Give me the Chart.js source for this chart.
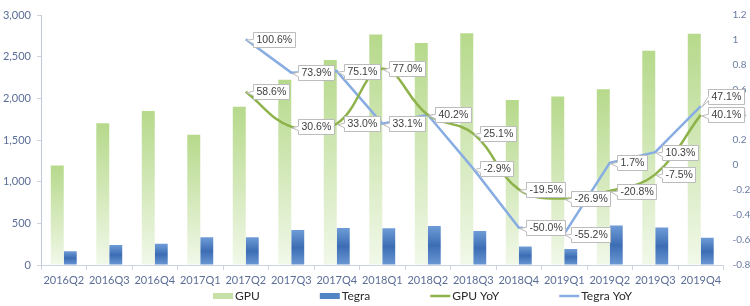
<!DOCTYPE html>
<html lang="en">
<head>
    <meta charset="UTF-8">
    <title>GPU / Tegra</title>
    <script src="https://cdn.jsdelivr.net/npm/chart.js@4.4.1/dist/chart.umd.min.js"></script>
    <style>
        body { margin: 0; background: #fff; }
    </style>
</head>
<body>
<canvas id="myChart" width="750" height="306"></canvas>
<script>
    var quarters = ['2016Q2', '2016Q3', '2016Q4', '2017Q1', '2017Q2', '2017Q3', '2017Q4', '2018Q1',
        '2018Q2', '2018Q3', '2018Q4', '2019Q1', '2019Q2', '2019Q3', '2019Q4'];
    var gpuRevenue = [1195, 1700, 1848, 1562, 1898, 2222, 2460, 2766, 2664, 2780, 1981, 2022, 2110, 2571, 2776];
    var tegraRevenue = [166, 241, 254, 332, 333, 419, 445, 442, 467, 407, 223, 192, 475, 449, 328];
    var gpuYoY = [null, null, null, null, 0.586, 0.306, 0.330, 0.770, 0.402, 0.251, -0.195, -0.269, -0.208, -0.075, 0.401];
    var tegraYoY = [null, null, null, null, 1.006, 0.739, 0.751, 0.331, 0.402, -0.029, -0.500, -0.552, 0.017, 0.103, 0.471];

    var tickColor = '#5b6e98';
    var axisColor = '#cdd3e0';
    var green = '#8db34a';
    var blue = '#88ade2';

    Chart.defaults.font.family = 'Lato, "Noto Sans", sans-serif';
    Chart.defaults.color = tickColor;

    function gpuFill(c) {
        var chart = c.chart;
        var area = chart.chartArea;
        if (!area || c.raw == null) return '#c3df9e';
        var top = chart.scales.y.getPixelForValue(c.raw);
        var g = chart.ctx.createLinearGradient(0, top, 0, area.bottom);
        g.addColorStop(0, '#b6d98b');
        g.addColorStop(1, '#f1f8e9');
        return g;
    }

    function tegraFill(c) {
        var chart = c.chart;
        var area = chart.chartArea;
        if (!area || c.raw == null) return '#4f80c4';
        var top = chart.scales.y.getPixelForValue(c.raw);
        var g = chart.ctx.createLinearGradient(0, top, 0, area.bottom);
        g.addColorStop(0, '#6f9cd7');
        g.addColorStop(0.5, '#3c6db4');
        g.addColorStop(1, '#6b98d4');
        return g;
    }

    // boxed value labels on the YoY lines
    var yoyLabels = {
        id: 'yoyLabels',
        afterDatasetsDraw: function (chart) {
            var ctx = chart.ctx;
            ctx.save();
            ctx.font = '10.5px "Liberation Sans", Arial, sans-serif';
            ctx.textBaseline = 'middle';
            chart.data.datasets.forEach(function (ds, di) {
                if (ds.type !== 'line') return;
                var meta = chart.getDatasetMeta(di);
                meta.data.forEach(function (pt, i) {
                    var v = ds.data[i];
                    if (v === null) return;
                    var text = (v * 100).toFixed(1) + '%';
                    var w = Math.round(ctx.measureText(text).width) + 6;
                    var h = 15;
                    var x = Math.round(pt.x) + 7.5;
                    var y = Math.round(pt.y - h / 2) + 0.5;
                    if (ds.label === 'Tegra YoY' && i === ds.data.length - 1) y -= 10; // keep clear of GPU label
                    ctx.beginPath();
                    ctx.moveTo(x, y);
                    ctx.lineTo(x + w, y);
                    ctx.lineTo(x + w, y + h);
                    ctx.lineTo(x, y + h);
                    ctx.lineTo(x, y + h * 0.75);
                    ctx.lineTo(pt.x + 1, pt.y + 1);
                    ctx.lineTo(x, y + h * 0.45);
                    ctx.closePath();
                    ctx.fillStyle = '#ffffff';
                    ctx.fill();
                    ctx.strokeStyle = '#bcbcbc';
                    ctx.lineWidth = 1;
                    ctx.stroke();
                    ctx.fillStyle = '#404040';
                    ctx.fillText(text, x + 3, y + h / 2 + 0.5);
                });
            });
            ctx.restore();
        }
    };

    // legend drawn under the axis
    var bottomLegend = {
        id: 'bottomLegend',
        afterDraw: function (chart) {
            var ctx = chart.ctx;
            ctx.save();
            ctx.font = '12px Lato, "Noto Sans", sans-serif';
            ctx.textBaseline = 'middle';
            var x = 213;
            var y = 296;
            chart.data.datasets.forEach(function (ds) {
                if (ds.type === 'line') {
                    ctx.strokeStyle = ds.borderColor;
                    ctx.lineWidth = 2.5;
                    ctx.beginPath();
                    ctx.moveTo(x, y);
                    ctx.lineTo(x + 20, y);
                    ctx.stroke();
                } else {
                    ctx.fillStyle = ds.legendColor;
                    ctx.fillRect(x, y - 3, 20, 6);
                }
                ctx.fillStyle = '#2b2b2b';
                ctx.fillText(ds.label, x + 22, y);
                x += 22 + ctx.measureText(ds.label).width + 60;
            });
            ctx.restore();
        }
    };

    var ctx = document.getElementById('myChart');
    var myChart = new Chart(ctx, {
        data: {
            labels: quarters,
            datasets: [
                {
                    type: 'bar', label: 'GPU', data: gpuRevenue, yAxisID: 'y',
                    backgroundColor: gpuFill, legendColor: '#c6e1a6',
                    categoryPercentage: 0.57, barPercentage: 1, order: 2
                },
                {
                    type: 'bar', label: 'Tegra', data: tegraRevenue, yAxisID: 'y',
                    backgroundColor: tegraFill, legendColor: '#5385c6',
                    categoryPercentage: 0.57, barPercentage: 1, order: 2
                },
                {
                    type: 'line', label: 'GPU YoY', data: gpuYoY, yAxisID: 'y1',
                    borderColor: green, borderWidth: 2.5, tension: 0.4,
                    pointRadius: 0, spanGaps: false, order: 0
                },
                {
                    type: 'line', label: 'Tegra YoY', data: tegraYoY, yAxisID: 'y1',
                    borderColor: blue, borderWidth: 2.5, tension: 0,
                    pointRadius: 0, spanGaps: false, order: 1
                }
            ]
        },
        options: {
            responsive: false,
            animation: false,
            layout: { padding: { top: 0, bottom: 17, left: 0, right: 0 } },
            plugins: {
                legend: { display: false },
                tooltip: { enabled: false }
            },
            scales: {
                x: {
                    grid: { display: true, drawOnChartArea: false, tickLength: 5, color: axisColor },
                    border: { display: true, color: axisColor },
                    ticks: { font: { size: 11 }, color: tickColor, padding: 4, maxRotation: 0, autoSkip: false },
                    afterFit: function (s) { s.height = 24; }
                },
                y: {
                    position: 'left', min: 0, max: 3000,
                    grid: { display: true, drawOnChartArea: false, tickLength: 4, color: axisColor },
                    border: { display: true, color: '#c0c8dc', dash: [3, 3] },
                    ticks: {
                        stepSize: 500, font: { size: 11 }, color: tickColor, padding: 6,
                        callback: function (v) { return v.toLocaleString('en-US'); }
                    },
                    afterFit: function (s) { s.width = 41; }
                },
                y1: {
                    position: 'right', min: -0.8, max: 1.2,
                    grid: { display: false, drawTicks: false },
                    border: { display: false },
                    ticks: {
                        stepSize: 0.2, font: { size: 10 }, color: '#6a7ca3', padding: 9,
                        callback: function (v) { return String(Math.round(v * 10) / 10); }
                    },
                    afterFit: function (s) { s.width = 26.5; }
                }
            }
        },
        plugins: [yoyLabels, bottomLegend]
    });
</script>
</body>
</html>
